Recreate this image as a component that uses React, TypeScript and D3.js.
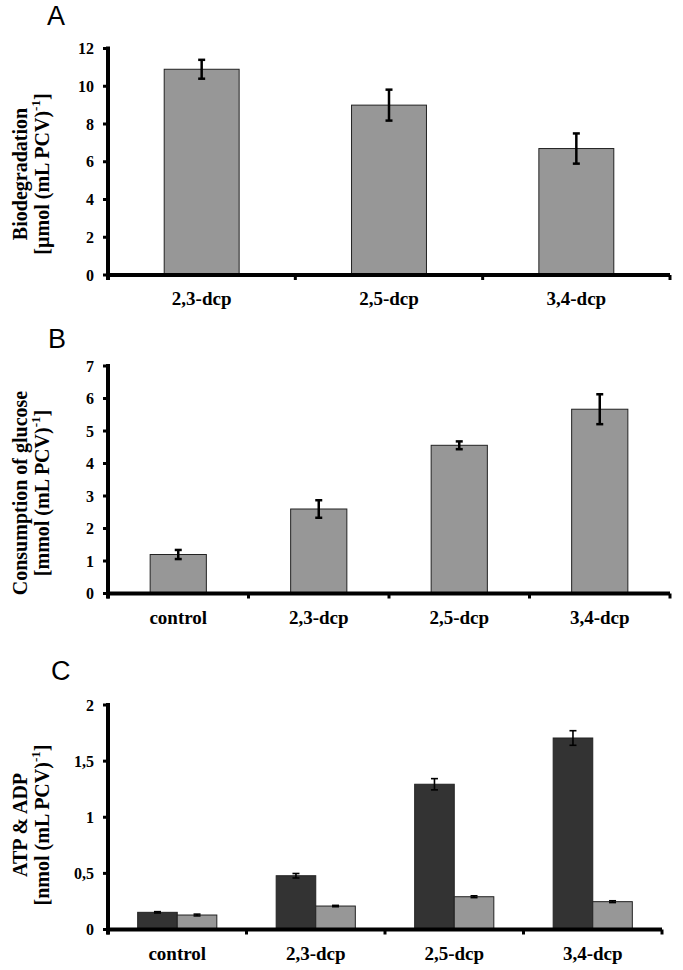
import React from 'react';
import * as d3 from 'd3';

// ---------- Data ----------
const catsA = ['2,3-dcp', '2,5-dcp', '3,4-dcp'];
const valsA = [10.9, 9.0, 6.7];
const errA = [0.5, 0.82, 0.8];
const ticksA = [0, 2, 4, 6, 8, 10, 12];

const catsB = ['control', '2,3-dcp', '2,5-dcp', '3,4-dcp'];
const valsB = [1.2, 2.6, 4.56, 5.67];
const errB = [0.14, 0.27, 0.12, 0.46];
const ticksB = [0, 1, 2, 3, 4, 5, 6, 7];

const catsC = ['control', '2,3-dcp', '2,5-dcp', '3,4-dcp'];
const seriesC = ['ATP', 'ADP'];
const atpC = [0.153, 0.479, 1.294, 1.706];
const atpErrC = [0.006, 0.02, 0.05, 0.065];
const adpC = [0.129, 0.209, 0.292, 0.248];
const adpErrC = [0.008, 0.006, 0.008, 0.008];
const ticksC = [0, 0.5, 1, 1.5, 2];

const SERIF = '"Liberation Serif", "Times New Roman", serif';
const SANS = '"Liberation Sans", Arial, sans-serif';

type Series = { name: string; values: number[]; errors: number[]; fill: string };

type PanelProps = {
  letter: string;
  letterX: number;
  letterY: number;
  title1: string;
  title2: string;
  titleCY: number;
  cats: string[];
  series: Series[];
  yDomain: [number, number];
  yRange: [number, number];
  xRange: [number, number];
  ticks: number[];
  fmt: (v: number) => string;
  errW: number;
};

function Panel(p: PanelProps) {
  const y = d3.scaleLinear().domain(p.yDomain).range(p.yRange);
  const outer = d3.scaleBand<string>().domain(p.cats).range(p.xRange).padding(0);
  const n = p.series.length;
  const inner =
    n === 1
      ? d3.scaleBand<string>().domain(p.series.map((s) => s.name)).range([0, outer.bandwidth()]).paddingInner(0).paddingOuter(0.75)
      : d3.scaleBand<string>().domain(p.series.map((s) => s.name)).range([0, outer.bandwidth()]).paddingInner(0).paddingOuter(0.75);
  const x0 = p.xRange[0];
  const x1 = p.xRange[1];
  const y0 = y(0);
  const yTop = y(p.yDomain[1]);
  const boundaries = [...p.cats.map((c) => outer(c) as number), x1];
  const capW = 7;
  return (
    <g>
      <text x={p.letterX} y={p.letterY} fontFamily={SANS} fontSize={27} fill="#000">
        {p.letter}
      </text>
      {/* y title */}
      <text
        transform={`translate(20,${p.titleCY}) rotate(-90)`}
        textAnchor="middle"
        dominantBaseline="central"
        fontFamily={SERIF}
        fontWeight="bold"
        fontSize={20}
      >
        {p.title1}
      </text>
      <text
        transform={`translate(42,${p.titleCY}) rotate(-90)`}
        textAnchor="middle"
        dominantBaseline="central"
        fontFamily={SERIF}
        fontWeight="bold"
        fontSize={20}
      >
        {p.title2}
        <tspan fontSize={13} dy={-7}>-1</tspan>
        <tspan dy={7}>]</tspan>
      </text>
      {/* bars */}
      {p.series.map((s) =>
        p.cats.map((c, i) => {
          const bx = (outer(c) as number) + (inner(s.name) as number);
          const bw = inner.bandwidth();
          const top = y(s.values[i]);
          return (
            <rect
              key={s.name + c}
              x={bx}
              y={top}
              width={bw}
              height={y0 - top}
              fill={s.fill}
              stroke="#222"
              strokeWidth={1}
            />
          );
        })
      )}
      {/* error bars */}
      {p.series.map((s) =>
        p.cats.map((c, i) => {
          const cx = (outer(c) as number) + (inner(s.name) as number) + inner.bandwidth() / 2;
          const hi = y(s.values[i] + s.errors[i]);
          const lo = y(s.values[i] - s.errors[i]);
          return (
            <g key={'e' + s.name + c} stroke="#000" strokeWidth={p.errW}>
              <line x1={cx} x2={cx} y1={hi} y2={lo} />
              <line x1={cx - capW / 2} x2={cx + capW / 2} y1={hi} y2={hi} />
              <line x1={cx - capW / 2} x2={cx + capW / 2} y1={lo} y2={lo} />
            </g>
          );
        })
      )}
      {/* y axis */}
      <line x1={x0} x2={x0} y1={yTop - 2} y2={y0 + 5} stroke="#000" strokeWidth={4} />
      {p.ticks.map((t) => (
        <g key={'t' + t}>
          <line x1={x0 - 5} x2={x0} y1={y(t)} y2={y(t)} stroke="#000" strokeWidth={3} />
          <text
            x={94}
            y={y(t)}
            dy="0.35em"
            textAnchor="end"
            fontFamily={SERIF}
            fontWeight="bold"
            fontSize={16}
          >
            {p.fmt(t)}
          </text>
        </g>
      ))}
      {/* x axis */}
      <line x1={x0 - 2} x2={x1} y1={y0} y2={y0} stroke="#000" strokeWidth={4} />
      {boundaries.map((b, i) => (
        <line key={'b' + i} x1={b} x2={b} y1={y0} y2={y0 + 5} stroke="#000" strokeWidth={3} />
      ))}
      {p.cats.map((c) => (
        <text
          key={'l' + c}
          x={(outer(c) as number) + outer.bandwidth() / 2}
          y={y0 + 30}
          textAnchor="middle"
          fontFamily={SERIF}
          fontWeight="bold"
          fontSize={19}
        >
          {c}
        </text>
      ))}
    </g>
  );
}

export default function App() {
  const fmtInt = (v: number) => String(v);
  const fmtComma = (v: number) => String(v).replace('.', ',');
  return (
    <div style={{ position: 'absolute', left: 0, top: 0 }}>
      <svg width={683} height={970} style={{ display: 'block', background: '#fff' }}>
        <Panel
          letter="A"
          letterX={47}
          letterY={25}
          title1="Biodegradation"
          title2="[µmol (mL PCV)"
          titleCY={174}
          cats={catsA}
          series={[{ name: 'bio', values: valsA, errors: errA, fill: '#979797' }]}
          yDomain={[0, 12]}
          yRange={[275, 48.5]}
          xRange={[108, 670]}
          ticks={ticksA}
          fmt={fmtInt}
          errW={2.5}
        />
        <Panel
          letter="B"
          letterX={48}
          letterY={348}
          title1="Consumption of glucose"
          title2="[mmol (mL PCV)"
          titleCY={493}
          cats={catsB}
          series={[{ name: 'glc', values: valsB, errors: errB, fill: '#979797' }]}
          yDomain={[0, 7]}
          yRange={[593.5, 366]}
          xRange={[108, 670]}
          ticks={ticksB}
          fmt={fmtInt}
          errW={2.5}
        />
        <Panel
          letter="C"
          letterX={51}
          letterY={680}
          title1="ATP & ADP"
          title2="[nmol (mL PCV)"
          titleCY={825}
          cats={catsC}
          series={[
            { name: seriesC[0], values: atpC, errors: atpErrC, fill: '#333333' },
            { name: seriesC[1], values: adpC, errors: adpErrC, fill: '#979797' },
          ]}
          yDomain={[0, 2]}
          yRange={[929.5, 705]}
          xRange={[108, 662]}
          ticks={ticksC}
          fmt={fmtComma}
          errW={1.6}
        />
      </svg>
    </div>
  );
}
